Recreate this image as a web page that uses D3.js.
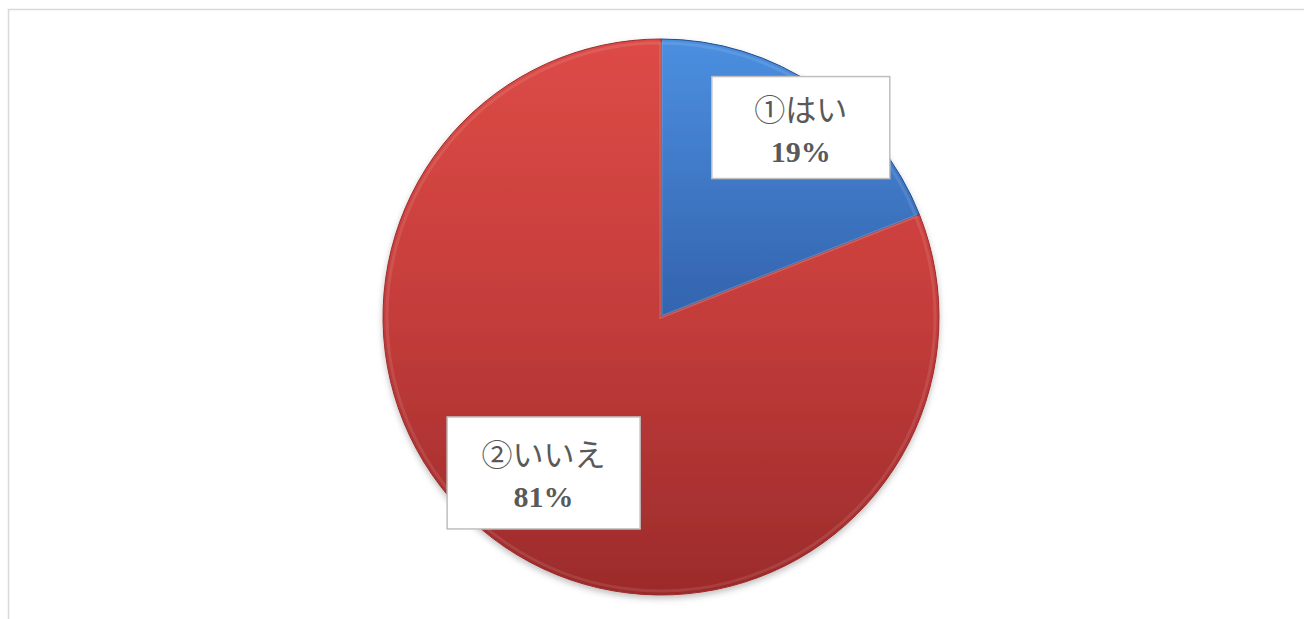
<!DOCTYPE html>
<html>
<head>
<meta charset="utf-8">
<script src="https://cdn.jsdelivr.net/npm/d3@7"></script>
<style>
  body { margin: 0; background: #fff; }
  svg { display: block; }
  .lbl { font-family: "Liberation Serif", "Noto Sans CJK JP", serif; font-size: 31px; fill: #595959; }
  .pct { font-weight: bold; font-size: 30px; }
</style>
</head>
<body>
<div id="chart"></div>
<script>
const width = 1304;
const height = 619;

// データ
const categories = ["①はい", "②いいえ"];
const values = [19, 81];
const percentLabels = ["19%", "81%"];

// 上・中・下のグラデーション色
const colorsTop = ["#4c8fe0", "#dd4b46"];
const colorsMid = ["#3567b2", "#c73e3c"];
const colorsBottom = ["#214c8a", "#9c2b2b"];
// ラベルの位置（半径に対する比率と微調整）
const labelRadius = [0.85, 0.70];
const labelOffset = [[7, 6], [-8, -5]];
const boxSize = [[178, 102], [193, 112]];

const cx = 661, cy = 317, r = 278;

const svg = d3.select("#chart")
    .append("svg")
    .attr("width", width)
    .attr("height", height);

// 外枠
svg.append("rect")
    .attr("x", 8.5).attr("y", 9.5)
    .attr("width", width + 10).attr("height", height + 10)
    .attr("fill", "none")
    .attr("stroke", "#d9d9d9")
    .attr("stroke-width", 1.5);

const defs = svg.append("defs");

categories.forEach((c, i) => {
    const g = defs.append("linearGradient")
        .attr("id", "grad" + i)
        .attr("gradientUnits", "userSpaceOnUse")
        .attr("x1", 0).attr("y1", -r)
        .attr("x2", 0).attr("y2", r);
    g.append("stop").attr("offset", "0%").attr("stop-color", colorsTop[i]);
    g.append("stop").attr("offset", "45%").attr("stop-color", colorsMid[i]);
    g.append("stop").attr("offset", "100%").attr("stop-color", colorsBottom[i]);
});

const shadow = defs.append("filter").attr("id", "shadow")
    .attr("x", "-10%").attr("y", "-10%").attr("width", "120%").attr("height", "125%");
shadow.append("feDropShadow")
    .attr("dx", 0).attr("dy", 3)
    .attr("stdDeviation", 3)
    .attr("flood-color", "#000")
    .attr("flood-opacity", 0.25);

const pie = d3.pie().sort(null).value(d => d);
const arcs = pie(values);
const arc = d3.arc().innerRadius(0).outerRadius(r);

const g = svg.append("g").attr("transform", `translate(${cx},${cy})`);

g.append("g").attr("filter", "url(#shadow)")
    .selectAll("path")
    .data(arcs)
    .join("path")
    .attr("d", arc)
    .attr("fill", (d, i) => `url(#grad${i})`)
    .attr("stroke", (d, i) => colorsBottom[i])
    .attr("stroke-width", 1);

// ベベル風のハイライト
const innerArc = d3.arc().innerRadius(0).outerRadius(r - 4);
g.append("g")
    .selectAll("path")
    .data(arcs)
    .join("path")
    .attr("d", innerArc)
    .attr("fill", "none")
    .attr("stroke", "#ffffff")
    .attr("stroke-opacity", 0.1)
    .attr("stroke-width", 3);

// ラベル
const label = g.selectAll(".label")
    .data(arcs)
    .join("g")
    .attr("class", "label")
    .attr("transform", (d, i) => {
        const a = (d.startAngle + d.endAngle) / 2;
        const lr = r * labelRadius[i];
        const x = Math.sin(a) * lr + labelOffset[i][0];
        const y = -Math.cos(a) * lr + labelOffset[i][1];
        return `translate(${x},${y})`;
    });

label.append("rect")
    .attr("x", (d, i) => -boxSize[i][0] / 2)
    .attr("y", (d, i) => -boxSize[i][1] / 2)
    .attr("width", (d, i) => boxSize[i][0])
    .attr("height", (d, i) => boxSize[i][1])
    .attr("fill", "#fff")
    .attr("stroke", "#bfbfbf")
    .attr("stroke-width", 1.5);

label.append("text")
    .attr("class", "lbl")
    .attr("text-anchor", "middle")
    .attr("y", -7)
    .text((d, i) => categories[i]);

label.append("text")
    .attr("class", "lbl pct")
    .attr("text-anchor", "middle")
    .attr("y", 34)
    .text((d, i) => percentLabels[i]);
</script>
</body>
</html>
